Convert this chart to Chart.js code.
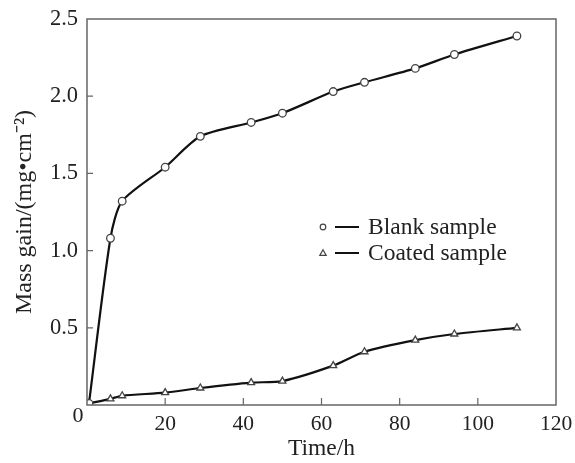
<!DOCTYPE html>
<html>
<head>
<meta charset="utf-8">
<script src="https://cdn.jsdelivr.net/npm/chart.js@4.4.0/dist/chart.umd.min.js"></script>
<style>
html,body{margin:0;padding:0;background:#fff;}
#wrap{width:575px;height:463px;}
</style>
</head>
<body>
<div id="wrap"><canvas id="c" width="575" height="463"></canvas></div>
<script>
const timeH = [0.5, 6, 9, 20, 29, 42, 50, 63, 71, 84, 94, 110];
const blankSample = [0.01, 1.08, 1.32, 1.54, 1.74, 1.83, 1.89, 2.03, 2.09, 2.18, 2.27, 2.39];
const coatedSample = [0.01, 0.04, 0.06, 0.08, 0.11, 0.145, 0.155, 0.255, 0.345, 0.42, 0.46, 0.50];
const seriesNames = ['Blank sample', 'Coated sample'];
const xTickValues = [20, 40, 60, 80, 100, 120];
const yTickValues = [0.5, 1.0, 1.5, 2.0, 2.5];

const FONT = '"Liberation Serif", "Times New Roman", serif';
const TXT = '#222';
const AX = '#666';

function pts(xs, ys){ return xs.map((x,i)=>({x:x, y:ys[i]})); }

const framePlugin = {
  id: 'frame',
  afterDraw(chart){
    const ctx = chart.ctx, a = chart.chartArea;
    const xs = chart.scales.x, ys = chart.scales.y;
    ctx.save();
    ctx.strokeStyle = AX; ctx.lineWidth = 1.5;
    ctx.strokeRect(a.left, a.top, a.right - a.left, a.bottom - a.top);
    ctx.lineWidth = 1.2;
    ctx.beginPath();
    [20,40,60,80,100].forEach(v=>{ const p = xs.getPixelForValue(v); ctx.moveTo(p, a.bottom); ctx.lineTo(p, a.bottom-7); });
    [0.5,1.0,1.5,2.0].forEach(v=>{ const p = ys.getPixelForValue(v); ctx.moveTo(a.left, p); ctx.lineTo(a.left+6, p); });
    ctx.stroke();
    // origin label
    ctx.fillStyle = TXT; ctx.font = '22px ' + FONT;
    ctx.textAlign = 'center'; ctx.textBaseline = 'middle';
    ctx.fillText('0', a.left - 9, a.bottom + 11);
    // legend
    const lx = a.left + 236, ly1 = a.top + 208, ly2 = a.top + 234;
    const rows = [[ly1,'circle',seriesNames[0]],[ly2,'triangle',seriesNames[1]]];
    rows.forEach(([y,shape,label])=>{
      ctx.strokeStyle = '#444'; ctx.lineWidth = 1.2; ctx.fillStyle = '#fff';
      ctx.beginPath();
      if(shape==='circle'){ ctx.arc(lx, y, 2.8, 0, Math.PI*2); }
      else { ctx.moveTo(lx, y-3.2); ctx.lineTo(lx+3.2, y+2.4); ctx.lineTo(lx-3.2, y+2.4); ctx.closePath(); }
      ctx.fill(); ctx.stroke();
      ctx.strokeStyle = '#111'; ctx.lineWidth = 2;
      ctx.beginPath(); ctx.moveTo(lx+12, y); ctx.lineTo(lx+36, y); ctx.stroke();
      ctx.fillStyle = TXT; ctx.font = '23.5px ' + FONT; ctx.textAlign = 'left'; ctx.textBaseline = 'middle';
      ctx.fillText(label, lx + 45, y + 1);
    });
    ctx.restore();
  }
};

new Chart(document.getElementById('c'), {
  type: 'line',
  data: {
    datasets: [
      { label: seriesNames[0], data: pts(timeH, blankSample), borderColor: '#111', borderWidth: 2.2,
        pointStyle: 'circle', pointRadius: 3.8, pointBackgroundColor: '#fff', pointBorderColor: '#444', pointBorderWidth: 1.3,
        tension: 0.25 },
      { label: seriesNames[1], data: pts(timeH, coatedSample), borderColor: '#111', borderWidth: 2.2,
        pointStyle: 'triangle', pointRadius: 4, pointBackgroundColor: '#fff', pointBorderColor: '#444', pointBorderWidth: 1.3,
        tension: 0.25 }
    ]
  },
  options: {
    responsive: false,
    animation: false,
    devicePixelRatio: 1,
    layout: { padding: { left: 0, right: 19, top: 19, bottom: 0 } },
    plugins: { legend: { display: false }, tooltip: { enabled: false } },
    scales: {
      x: {
        type: 'linear', min: 0, max: 120,
        afterBuildTicks: s => { s.ticks = xTickValues.map(v=>({value:v})); },
        grid: { display: false, drawTicks: false },
        border: { display: false },
        ticks: { padding: 6, color: TXT, font: { family: FONT, size: 21.5 } },
        title: { display: true, text: 'Time/h', color: TXT, font: { family: FONT, size: 23.5 }, padding: { top: 0, bottom: 0 } },
        afterFit: s => { s.height = 58; s.paddingLeft = 0; s.paddingRight = 0; }
      },
      y: {
        type: 'linear', min: 0, max: 2.5,
        afterBuildTicks: s => { s.ticks = yTickValues.map(v=>({value:v})); },
        grid: { display: false, drawTicks: false },
        border: { display: false },
        ticks: { padding: 9, color: TXT, font: { family: FONT, size: 22.5 }, callback: v => v.toFixed(1) },
        title: { display: true, text: 'Mass gain/(mg•cm⁻²)', color: TXT, font: { family: FONT, size: 24 }, padding: { top: 10, bottom: 0 } },
        afterFit: s => { s.width = 87; s.paddingTop = 0; s.paddingBottom = 0; }
      }
    }
  },
  plugins: [framePlugin]
});
</script>
</body>
</html>
